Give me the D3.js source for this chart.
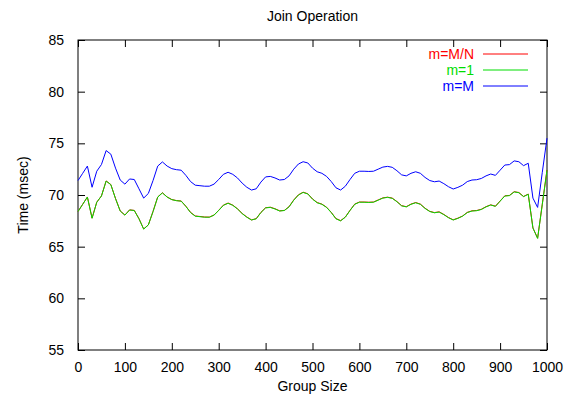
<!DOCTYPE html>
<html>
<head>
<meta charset="utf-8">
<script src="https://cdn.jsdelivr.net/npm/d3@7"></script>
<style>
  body { margin: 0; background: #fff; }
  text { font-family: "Liberation Sans", Arial, sans-serif; }
</style>
</head>
<body>
<svg id="chart"></svg>
<script>
const groupSize = d3.range(0, 1001, 10);

const mOne = [
  68.4, 69.1, 69.8, 67.75, 69.3, 69.9, 71.35, 71.0, 69.65, 68.45,
  68.05, 68.55, 68.5, 67.7, 66.7, 67.1, 68.4, 69.8, 70.2, 69.8,
  69.55, 69.45, 69.4, 68.9, 68.3, 67.95, 67.9, 67.85, 67.85, 68.05,
  68.5, 69.0, 69.2, 69.0, 68.65, 68.2, 67.85, 67.58, 67.7, 68.3,
  68.75, 68.8, 68.65, 68.45, 68.5, 68.85, 69.5, 70.0, 70.25, 70.1,
  69.6, 69.25, 69.1, 68.8, 68.3, 67.7, 67.5, 67.85, 68.5, 69.1,
  69.3, 69.3, 69.28, 69.3, 69.5, 69.7, 69.77, 69.68, 69.35, 68.95,
  68.85, 69.1, 69.25, 69.1, 68.7, 68.4, 68.28, 68.35, 68.1, 67.8,
  67.58, 67.74, 67.95, 68.3, 68.45, 68.48, 68.6, 68.85, 69.03, 68.9,
  69.4, 69.9, 69.94, 70.3, 70.22, 69.84, 70.07, 66.8, 65.8, 69.1,
  72.4
];

const mMN = [
  68.41, 69.1, 69.81, 67.76, 69.3, 69.91, 71.36, 71.01, 69.66, 68.46,
  68.06, 68.56, 68.51, 67.71, 66.71, 67.11, 68.41, 69.81, 70.22, 69.81,
  69.56, 69.46, 69.42, 68.91, 68.32, 67.97, 67.92, 67.87, 67.86, 68.06,
  68.52, 69.02, 69.22, 69.02, 68.67, 68.22, 67.87, 67.59, 67.71, 68.32,
  68.77, 68.82, 68.67, 68.47, 68.51, 68.87, 69.52, 70.02, 70.27, 70.12,
  69.62, 69.27, 69.12, 68.82, 68.32, 67.72, 67.52, 67.87, 68.52, 69.12,
  69.32, 69.32, 69.3, 69.32, 69.52, 69.72, 69.79, 69.7, 69.37, 68.97,
  68.87, 69.12, 69.27, 69.12, 68.72, 68.42, 68.3, 68.37, 68.12, 67.82,
  67.6, 67.76, 67.97, 68.32, 68.47, 68.5, 68.62, 68.87, 69.05, 68.92,
  69.42, 69.92, 69.96, 70.32, 70.24, 69.86, 70.09, 66.82, 65.82, 69.12,
  72.42
];

const mM = [
  71.4, 72.1, 72.8, 70.75, 72.3, 72.95, 74.3, 73.95, 72.6, 71.45,
  71.05, 71.55, 71.5, 70.6, 69.7, 70.15, 71.4, 72.8, 73.2, 72.8,
  72.55, 72.45, 72.4, 71.9, 71.3, 70.95, 70.9, 70.85, 70.85, 71.05,
  71.5, 72.0, 72.2, 72.0, 71.65, 71.15, 70.75, 70.48, 70.6, 71.25,
  71.75, 71.8, 71.65, 71.45, 71.5, 71.85, 72.5, 73.0, 73.22, 73.1,
  72.6, 72.25, 72.1, 71.8, 71.3, 70.7, 70.48, 70.85, 71.5, 72.1,
  72.3, 72.3, 72.28, 72.3, 72.5, 72.7, 72.77, 72.68, 72.35, 71.95,
  71.85, 72.1, 72.25, 72.1, 71.7, 71.4, 71.28, 71.35, 71.1, 70.8,
  70.58, 70.74, 70.95, 71.3, 71.45, 71.48, 71.6, 71.85, 72.03, 71.9,
  72.4, 72.9, 72.94, 73.3, 73.22, 72.84, 73.07, 69.7, 68.8, 72.2,
  75.5
];

const seriesNames = ["m=M/N", "m=1", "m=M"];
const seriesColors = ["#ff0000", "#00dd00", "#0000ff"];
const seriesValues = [mMN, mOne, mM];

const xTicks = d3.range(0, 1001, 100);
const yTicks = d3.range(55, 86, 5);

const width = 577, height = 401;
const margin = { top: 40, right: 30, bottom: 51, left: 78 };

const svg = d3.select("#chart")
    .attr("width", width)
    .attr("height", height);

const x = d3.scaleLinear()
    .domain([0, 1000])
    .range([margin.left, width - margin.right]);

const y = d3.scaleLinear()
    .domain([55, 85])
    .range([height - margin.bottom, margin.top]);

const tickLen = 7;

// axes with inward ticks, mirrored on top and right
svg.append("g")
    .attr("transform", `translate(0,${y(55)})`)
    .call(d3.axisBottom(x).tickValues(xTicks).tickFormat(d3.format("d"))
        .tickSizeInner(-tickLen).tickSizeOuter(0).tickPadding(12))
    .call(g => g.select(".domain").remove());

svg.append("g")
    .attr("transform", `translate(0,${y(85)})`)
    .call(d3.axisTop(x).tickValues(xTicks).tickSizeInner(-tickLen).tickSizeOuter(0).tickFormat(""))
    .call(g => g.select(".domain").remove());

svg.append("g")
    .attr("transform", `translate(${x(0)},0)`)
    .call(d3.axisLeft(y).tickValues(yTicks).tickSizeInner(-tickLen).tickSizeOuter(0).tickPadding(14))
    .call(g => g.select(".domain").remove());

svg.append("g")
    .attr("transform", `translate(${x(1000)},0)`)
    .call(d3.axisRight(y).tickValues(yTicks).tickSizeInner(-tickLen).tickSizeOuter(0).tickFormat(""))
    .call(g => g.select(".domain").remove());

svg.selectAll(".tick line").attr("stroke", "#000");
svg.selectAll(".tick text")
    .attr("font-size", 14)
    .attr("font-family", "'Liberation Sans', Arial, sans-serif")
    .attr("fill", "#000");

svg.append("rect")
    .attr("x", x(0))
    .attr("y", y(85))
    .attr("width", x(1000) - x(0))
    .attr("height", y(55) - y(85))
    .attr("fill", "none")
    .attr("stroke", "#000")
    .attr("stroke-width", 1);

const line = d3.line()
    .x((d, i) => x(groupSize[i]))
    .y(d => y(d));

svg.selectAll(".series")
    .data(seriesValues)
    .join("path")
    .attr("class", "series")
    .attr("d", d => line(d))
    .attr("fill", "none")
    .attr("stroke", (d, i) => seriesColors[i])
    .attr("stroke-width", 1);

// legend
const legend = svg.append("g");
seriesNames.forEach((name, i) => {
    const ly = 54 + i * 16;
    legend.append("text")
        .attr("x", 474)
        .attr("y", ly)
        .attr("dy", "0.35em")
        .attr("text-anchor", "end")
        .attr("font-size", 14)
        .attr("fill", seriesColors[i])
        .text(name);
    legend.append("line")
        .attr("x1", 483).attr("x2", 528)
        .attr("y1", ly).attr("y2", ly)
        .attr("stroke", seriesColors[i])
        .attr("stroke-width", 1);
});

svg.append("text")
    .attr("x", (x(0) + x(1000)) / 2)
    .attr("y", 21)
    .attr("text-anchor", "middle")
    .attr("font-size", 14)
    .text("Join Operation");

svg.append("text")
    .attr("x", (x(0) + x(1000)) / 2)
    .attr("y", 391)
    .attr("text-anchor", "middle")
    .attr("font-size", 14)
    .text("Group Size");

svg.append("text")
    .attr("transform", `translate(28,${(y(55) + y(85)) / 2}) rotate(-90)`)
    .attr("text-anchor", "middle")
    .attr("font-size", 14)
    .text("Time (msec)");
</script>
</body>
</html>
